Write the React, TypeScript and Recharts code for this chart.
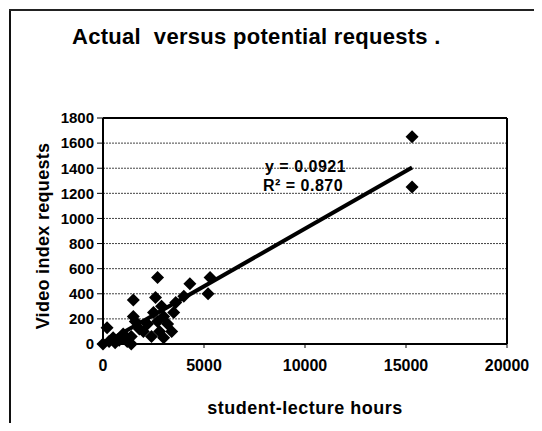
import React from 'react'
import { ComposedChart, Scatter, XAxis, YAxis, CartesianGrid, ReferenceLine } from 'recharts'

// student-lecture hours vs. video index requests
const hours = [
  0, 200, 300, 500, 600, 800, 1000, 1200, 1400, 1400, 1500, 1500, 1600, 1800, 2000, 2200, 2400,
  2500, 2600, 2700, 2700, 2800, 2900, 3000, 3000, 3200, 3400, 3500, 3600, 4000, 4300, 5200, 5300,
  15300, 15300,
]
const requests = [
  0, 130, 20, 50, 10, 30, 80, 20, 0, 60, 350, 220, 180, 120, 100, 160, 60, 250, 370, 530, 180, 100,
  300, 220, 50, 160, 100, 250, 330, 380, 480, 400, 530, 1650, 1250,
]

const trendHours = [0, 15300]
const trendRequests = [0, 1405]

const xTicks = [0, 5000, 10000, 15000, 20000]
const yTicks = [0, 200, 400, 600, 800, 1000, 1200, 1400, 1600, 1800]

const points = hours.map((h, i) => ({ x: h, y: requests[i] }))
const trend = trendHours.map((h, i) => ({ x: h, y: trendRequests[i] }))

const font = '"Liberation Sans", Arial, sans-serif'

const Diamond = (props: any) => {
  const { cx, cy } = props
  const r = 6.5
  return <polygon points={`${cx},${cy - r} ${cx + r},${cy} ${cx},${cy + r} ${cx - r},${cy}`} fill="#000" />
}

export default function App() {
  return (
    <div style={{ position: 'relative', width: 542, height: 431, margin: -8, background: '#fff', fontFamily: font }}>
      <div style={{ position: 'absolute', left: 9, top: 9, width: 2, height: 422, background: '#111' }} />
      <div style={{ position: 'absolute', left: 9, top: 9, width: 533, height: 2, background: '#222' }} />
      <div style={{ position: 'absolute', left: 72, top: 24, fontSize: 22, fontWeight: 'bold', letterSpacing: 0.3, whiteSpace: 'pre' }}>
        {'Actual  versus potential requests .'}
      </div>
      <div
        style={{
          position: 'absolute', left: 43, top: 236, fontSize: 18, fontWeight: 'bold', letterSpacing: 0.3,
          whiteSpace: 'nowrap', transform: 'translate(-50%, -50%) rotate(-90deg)',
        }}
      >
        Video index requests
      </div>
      <ComposedChart width={542} height={431} margin={{ top: 118, right: 35, bottom: 0, left: 0 }}>
        <CartesianGrid vertical={false} stroke="#444" strokeDasharray="2 1" />
        <XAxis
          type="number"
          dataKey="x"
          domain={[0, 20000]}
          ticks={xTicks}
          height={87}
          tickSize={4}
          tickMargin={12}
          axisLine={{ stroke: '#000', strokeWidth: 2 }}
          tickLine={{ stroke: '#000' }}
          tick={{ fontSize: 16, fontWeight: 'bold', fill: '#000', fontFamily: font }}
          label={{ value: 'student-lecture hours', position: 'insideBottom', offset: 17, fontSize: 18, fontWeight: 'bold', fill: '#000', fontFamily: font, letterSpacing: 0.5 }}
        />
        <YAxis
          type="number"
          dataKey="y"
          domain={[0, 1800]}
          ticks={yTicks}
          width={103}
          tickSize={6}
          tickMargin={3}
          axisLine={{ stroke: '#000', strokeWidth: 2 }}
          tickLine={{ stroke: '#000' }}
          tick={{ fontSize: 15, fontWeight: 'bold', fill: '#000', fontFamily: font }}
        />
        <ReferenceLine y={1800} stroke="#000" strokeWidth={2} />
        <ReferenceLine x={20000} stroke="#000" strokeWidth={2} />
        <Scatter data={points} shape={Diamond} isAnimationActive={false} />
        <Scatter data={trend} line={{ stroke: '#000', strokeWidth: 4 }} shape={() => <g />} isAnimationActive={false} />
      </ComposedChart>
      <div style={{ position: 'absolute', left: 265, top: 158, fontSize: 16, fontWeight: 'bold', letterSpacing: 0.5, lineHeight: '18px' }}>y = 0.0921</div>
      <div style={{ position: 'absolute', left: 263, top: 177, fontSize: 16, fontWeight: 'bold', letterSpacing: 0.5, lineHeight: '18px' }}>R² = 0.870</div>
    </div>
  )
}
